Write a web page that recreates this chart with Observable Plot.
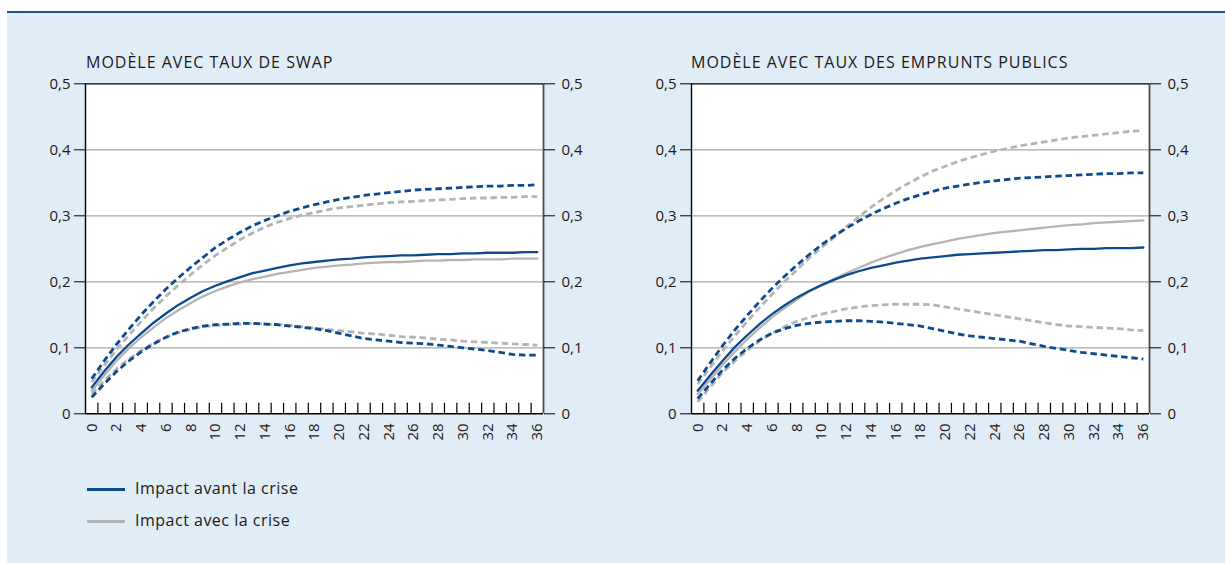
<!DOCTYPE html>
<html lang="fr">
<head>
<meta charset="utf-8">
<script src="https://cdn.jsdelivr.net/npm/d3@7"></script>
<script src="https://cdn.jsdelivr.net/npm/@observablehq/plot@0.6"></script>
<style>
  html, body { margin: 0; padding: 0; background: #ffffff; }
  body { width: 1225px; height: 563px; position: relative; overflow: hidden;
         font-family: "Open Sans", "Noto Sans", sans-serif; color: #1a1a1a; }
  #panel { position: absolute; left: 7px; top: 11px; width: 1218px; height: 552px;
           background: #e1edf6; border-top: 2px solid #1d5193; box-sizing: border-box; }
  .title { position: absolute; font-size: 16px; line-height: 16px; letter-spacing: 1px; white-space: nowrap; color: #1a1a1a; }
  .chart { position: absolute; top: 70px; }
  .legend { position: absolute; left: 87px; font-size: 16px; line-height: 16px; letter-spacing: 0.5px; color: #1a1a1a; white-space: nowrap; }
  .legend .sw { display: inline-block; width: 38px; height: 3px; vertical-align: middle; margin-right: 10px; }
</style>
</head>
<body>
<div id="panel"></div>
<div class="title" style="left:86px; top:54px;">MODÈLE AVEC TAUX DE SWAP</div>
<div class="title" style="left:691px; top:54px;">MODÈLE AVEC TAUX DES EMPRUNTS PUBLICS</div>
<div class="chart" id="left" style="left:0px;"></div>
<div class="chart" id="right" style="left:606px;"></div>
<div class="legend" style="top:480px;"><span class="sw" style="background:#0d4a8d"></span>Impact avant la crise</div>
<div class="legend" style="top:512px;"><span class="sw" style="background:#b4b4b4"></span>Impact avec la crise</div>

<script>
// Horizon in months (categories 0 … 36)
const months = [0,1,2,3,4,5,6,7,8,9,10,11,12,13,14,15,16,17,18,19,20,21,22,23,24,25,26,27,28,29,30,31,32,33,34,35,36];
const monthLabels = [0,2,4,6,8,10,12,14,16,18,20,22,24,26,28,30,32,34,36];
const yTicks = [0, 0.1, 0.2, 0.3, 0.4, 0.5];
const gridTicks = [0.1, 0.2, 0.3, 0.4];

// Model with swap rates
const swapAvant = [0.040,0.064,0.086,0.105,0.122,0.138,0.152,0.165,0.176,0.186,0.194,0.201,0.207,0.213,0.217,0.221,0.225,0.228,0.230,0.232,0.234,0.235,0.237,0.238,0.239,0.240,0.240,0.241,0.242,0.242,0.243,0.243,0.244,0.244,0.244,0.245,0.245];
const swapAvantHaut = [0.053,0.080,0.105,0.128,0.150,0.170,0.189,0.206,0.222,0.237,0.252,0.264,0.275,0.285,0.293,0.300,0.307,0.312,0.317,0.321,0.325,0.328,0.331,0.333,0.335,0.337,0.339,0.340,0.341,0.342,0.343,0.344,0.345,0.345,0.346,0.346,0.347];
const swapAvantBas = [0.025,0.045,0.064,0.080,0.094,0.106,0.116,0.124,0.129,0.133,0.135,0.136,0.137,0.137,0.136,0.135,0.133,0.131,0.129,0.126,0.122,0.118,0.114,0.112,0.110,0.108,0.107,0.106,0.104,0.102,0.100,0.098,0.096,0.093,0.090,0.089,0.089];
const swapAvec = [0.035,0.058,0.080,0.099,0.116,0.131,0.145,0.157,0.168,0.178,0.186,0.193,0.199,0.204,0.208,0.212,0.215,0.218,0.221,0.223,0.225,0.226,0.228,0.229,0.230,0.230,0.231,0.232,0.232,0.233,0.233,0.234,0.234,0.234,0.235,0.235,0.235];
const swapAvecHaut = [0.048,0.073,0.097,0.119,0.140,0.160,0.178,0.195,0.211,0.226,0.240,0.252,0.264,0.274,0.283,0.290,0.296,0.301,0.305,0.309,0.312,0.314,0.316,0.318,0.320,0.321,0.322,0.323,0.324,0.325,0.326,0.327,0.327,0.328,0.328,0.329,0.329];
const swapAvecBas = [0.030,0.050,0.068,0.083,0.096,0.107,0.116,0.123,0.128,0.132,0.134,0.135,0.136,0.137,0.136,0.135,0.134,0.132,0.130,0.128,0.126,0.124,0.122,0.121,0.119,0.117,0.116,0.115,0.113,0.112,0.110,0.109,0.108,0.107,0.106,0.105,0.104];

// Model with government bond rates
const empAvant = [0.035,0.058,0.080,0.101,0.119,0.136,0.151,0.164,0.176,0.186,0.195,0.203,0.210,0.216,0.221,0.225,0.229,0.232,0.235,0.237,0.239,0.241,0.242,0.243,0.244,0.245,0.246,0.247,0.248,0.248,0.249,0.250,0.250,0.251,0.251,0.251,0.252];
const empAvantHaut = [0.050,0.077,0.103,0.127,0.149,0.170,0.190,0.208,0.225,0.241,0.256,0.269,0.281,0.292,0.302,0.311,0.319,0.326,0.332,0.337,0.342,0.345,0.348,0.351,0.353,0.355,0.357,0.358,0.359,0.360,0.361,0.362,0.363,0.364,0.364,0.365,0.365];
const empAvantBas = [0.023,0.045,0.066,0.084,0.099,0.112,0.122,0.129,0.134,0.137,0.139,0.140,0.141,0.141,0.140,0.139,0.137,0.135,0.133,0.129,0.125,0.121,0.118,0.116,0.114,0.112,0.110,0.106,0.102,0.099,0.096,0.093,0.091,0.089,0.087,0.085,0.083];
const empAvec = [0.030,0.052,0.074,0.094,0.113,0.130,0.146,0.160,0.173,0.185,0.195,0.204,0.213,0.221,0.229,0.236,0.242,0.248,0.253,0.257,0.261,0.265,0.268,0.271,0.274,0.276,0.278,0.280,0.282,0.284,0.286,0.287,0.289,0.290,0.291,0.292,0.293];
const empAvecHaut = [0.045,0.070,0.095,0.118,0.140,0.161,0.181,0.200,0.218,0.236,0.252,0.267,0.283,0.298,0.313,0.326,0.338,0.349,0.359,0.368,0.375,0.382,0.388,0.393,0.398,0.402,0.406,0.409,0.412,0.415,0.418,0.420,0.422,0.424,0.426,0.428,0.429];
const empAvecBas = [0.018,0.040,0.062,0.080,0.096,0.110,0.122,0.132,0.140,0.146,0.151,0.155,0.159,0.162,0.164,0.165,0.166,0.166,0.166,0.165,0.162,0.159,0.156,0.153,0.150,0.147,0.144,0.141,0.138,0.135,0.133,0.132,0.131,0.130,0.129,0.127,0.126];

const BLUE = "#0d4a8d";
const GRAY = "#b4b4b4";

// tick marks sit on the boundaries between monthly categories
const boundaries = months.slice(1).map(m => m - 0.5);
const fmt = d => d === 0 ? "0" : d3.format(".1f")(d).replace(".", ",");

function rows(values) { return months.map((m, i) => ({month: m, value: values[i]})); }

function panel(s) {
  const solid = {x: "month", y: "value", strokeWidth: 2.3, curve: "linear"};
  const dashed = {x: "month", y: "value", strokeWidth: 2.8, strokeDasharray: "6.5,3.8", strokeLinecap: "butt", curve: "linear"};
  const axisStyle = {tickSize: 11, tickFormat: fmt, fontSize: 15, stroke: "#000", fill: "#1a1a1a", label: null};
  return Plot.plot({
    width: 601,
    height: 390,
    marginTop: 13.3,
    marginBottom: 46.7,
    marginLeft: 85,
    marginRight: 58,
    style: {background: "transparent", fontFamily: "'Open Sans', 'Noto Sans', sans-serif", fontSize: "15px", color: "#000"},
    x: {domain: [-0.5, 36.5], axis: null},
    y: {domain: [0, 0.5], axis: null},
    marks: [
      Plot.frame({fill: "white", stroke: null}),
      Plot.ruleY(gridTicks, {stroke: "#a8a8a8", strokeWidth: 1.3}),
      Plot.ruleX(boundaries, {x: d => d, y1: 0, y2: 0, insetTop: -10.5, stroke: "#000", strokeWidth: 1.2}),
      Plot.line(rows(s.avecHaut), {...dashed, stroke: GRAY}),
      Plot.line(rows(s.avecBas), {...dashed, stroke: GRAY}),
      Plot.line(rows(s.avantHaut), {...dashed, stroke: BLUE}),
      Plot.line(rows(s.avantBas), {...dashed, stroke: BLUE}),
      Plot.line(rows(s.avec), {...solid, stroke: GRAY}),
      Plot.line(rows(s.avant), {...solid, stroke: BLUE}),
      Plot.ruleX([-0.5], {stroke: "#000", strokeWidth: 1.4}),
      Plot.ruleX([36.5], {stroke: "#4d4d4d", strokeWidth: 1.8}),
      Plot.ruleY([0.5], {stroke: "#000", strokeWidth: 1.3}),
      Plot.ruleY([0], {stroke: "#000", strokeWidth: 1.4}),
      Plot.axisY(yTicks, {...axisStyle, anchor: "left", tickPadding: 4}),
      Plot.axisY(yTicks, {...axisStyle, anchor: "right", tickPadding: 7}),
      Plot.text(monthLabels, {x: d => d, y: 0, text: d => String(d), rotate: -90, textAnchor: "end", dy: 9.5, fontSize: 15, fill: "#1a1a1a"})
    ]
  });
}

document.getElementById("left").append(panel({
  avant: swapAvant, avantHaut: swapAvantHaut, avantBas: swapAvantBas,
  avec: swapAvec, avecHaut: swapAvecHaut, avecBas: swapAvecBas
}));
document.getElementById("right").append(panel({
  avant: empAvant, avantHaut: empAvantHaut, avantBas: empAvantBas,
  avec: empAvec, avecHaut: empAvecHaut, avecBas: empAvecBas
}));
</script>
</body>
</html>
